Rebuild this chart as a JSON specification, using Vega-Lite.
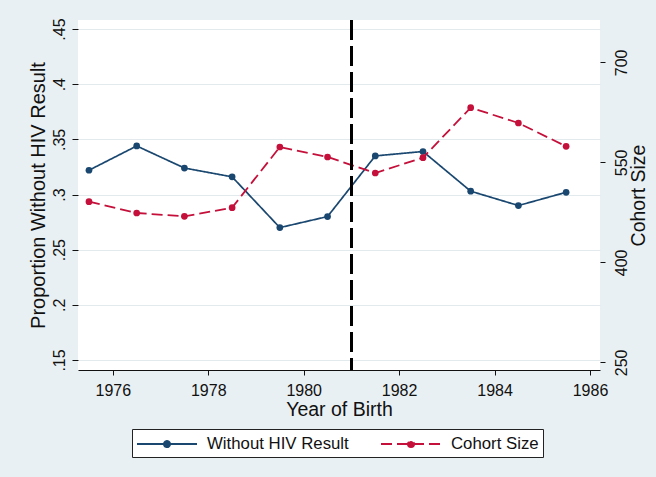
{
  "$schema": "https://vega.github.io/schema/vega-lite/v6.json",
  "width": 522,
  "height": 350,
  "autosize": {"type": "none"},
  "padding": {"left": 78, "top": 20, "right": 56, "bottom": 107},
  "background": "#e9f0f3",
  "config": {
    "view": {"fill": "white", "stroke": null},
    "font": "Liberation Sans",
    "axis": {
      "labelFont": "Liberation Sans",
      "titleFont": "Liberation Sans",
      "labelColor": "#111111",
      "titleColor": "#111111",
      "tickColor": "#111111",
      "domainColor": "#111111",
      "labelFontSize": 16,
      "titleFontSize": 19.5,
      "titleFontWeight": "normal",
      "labelFlush": false,
      "labelOverlap": false
    },
    "legend": {"labelFont": "Liberation Sans"}
  },
  "data": {
    "values": [
      {"year": 1975.5, "prop": 0.322, "cohort": 491},
      {"year": 1976.5, "prop": 0.344, "cohort": 474},
      {"year": 1977.5, "prop": 0.324, "cohort": 469},
      {"year": 1978.5, "prop": 0.316, "cohort": 482},
      {"year": 1979.5, "prop": 0.270, "cohort": 573},
      {"year": 1980.5, "prop": 0.280, "cohort": 558},
      {"year": 1981.5, "prop": 0.335, "cohort": 534},
      {"year": 1982.5, "prop": 0.339, "cohort": 557},
      {"year": 1983.5, "prop": 0.303, "cohort": 632},
      {"year": 1984.5, "prop": 0.290, "cohort": 609},
      {"year": 1985.5, "prop": 0.302, "cohort": 574}
    ]
  },
  "encoding": {
    "x": {
      "field": "year",
      "type": "quantitative",
      "scale": {"domain": [1975.27, 1986.21], "nice": false, "zero": false},
      "axis": {
        "values": [1976, 1978, 1980, 1982, 1984, 1986],
        "format": "d",
        "grid": false,
        "tickSize": 5,
        "labelPadding": 7,
        "title": "Year of Birth",
        "titlePadding": 2
      }
    }
  },
  "layer": [
    {
      "encoding": {
        "y": {
          "field": "prop",
          "type": "quantitative",
          "scale": {"domain": [0.1409, 0.4582], "nice": false, "zero": false},
          "axis": {
            "orient": "left",
            "values": [0.15, 0.2, 0.25, 0.3, 0.35, 0.4, 0.45],
            "labelExpr": "substring(format(datum.value, '.2~f'), 1)",
            "labelAngle": 270,
            "labelAlign": "center",
            "labelBaseline": "bottom",
            "tickSize": 6,
            "labelPadding": 5,
            "domain": false,
            "grid": true,
            "gridColor": "#e2eaee",
            "gridWidth": 1,
            "title": "Proportion Without HIV Result",
            "titleFontSize": 20,
            "titlePadding": 3
          }
        }
      },
      "layer": [
        {
          "mark": {"type": "line", "strokeWidth": 1.7},
          "encoding": {
            "color": {
              "datum": "Without HIV Result",
              "type": "nominal",
              "scale": {"domain": ["Without HIV Result", "Cohort Size"], "range": ["#1a476f", "#c4103a"]},
              "legend": {
                "orient": "none",
                "legendX": 54,
                "legendY": 409,
                "direction": "horizontal",
                "title": null,
                "fillColor": "white",
                "strokeColor": "#222222",
                "padding": 4,
                "labelFontSize": 16.8,
                "labelColor": "#111111",
                "symbolType": "M-1,0H5M1.7,0A0.3,0.3,0,1,0,2.3,0A0.3,0.3,0,1,0,1.7,0Z",
                "symbolSize": 400,
                "symbolStrokeWidth": 2,
                "labelOffset": 49,
                "columnPadding": 28,
                "encode": {"symbols": {"update": {"fill": {"scale": "color", "field": "value"}}}}
              }
            },
            "strokeDash": {
              "datum": "Without HIV Result",
              "type": "nominal",
              "scale": {"domain": ["Without HIV Result", "Cohort Size"], "range": [[1, 0], [11, 5]]},
              "legend": null
            }
          }
        },
        {
          "mark": {"type": "point", "filled": true, "opacity": 1, "size": 45, "color": "#1a476f", "shape": "circle"}
        }
      ]
    },
    {
      "encoding": {
        "y": {
          "field": "cohort",
          "type": "quantitative",
          "scale": {"domain": [238.5, 763.5], "nice": false, "zero": false},
          "axis": {
            "orient": "right",
            "values": [250, 400, 550, 700],
            "labelAngle": 270,
            "labelAlign": "center",
            "labelBaseline": "top",
            "tickSize": 5,
            "labelPadding": 8,
            "domain": false,
            "grid": false,
            "title": "Cohort Size",
            "titleAngle": 270,
            "titleBaseline": "top",
            "titlePadding": 0
          }
        }
      },
      "layer": [
        {
          "mark": {"type": "line", "strokeWidth": 1.8},
          "encoding": {
            "color": {"datum": "Cohort Size", "type": "nominal"},
            "strokeDash": {"datum": "Cohort Size", "type": "nominal"}
          }
        },
        {
          "mark": {"type": "point", "filled": true, "opacity": 1, "size": 45, "color": "#c4103a", "shape": "circle"}
        }
      ]
    },
    {
      "mark": {"type": "rule", "color": "black", "strokeWidth": 2.6, "strokeDash": [20, 6]},
      "encoding": {"x": {"datum": 1981, "type": "quantitative"}}
    }
  ],
  "resolve": {"scale": {"y": "independent"}}
}
